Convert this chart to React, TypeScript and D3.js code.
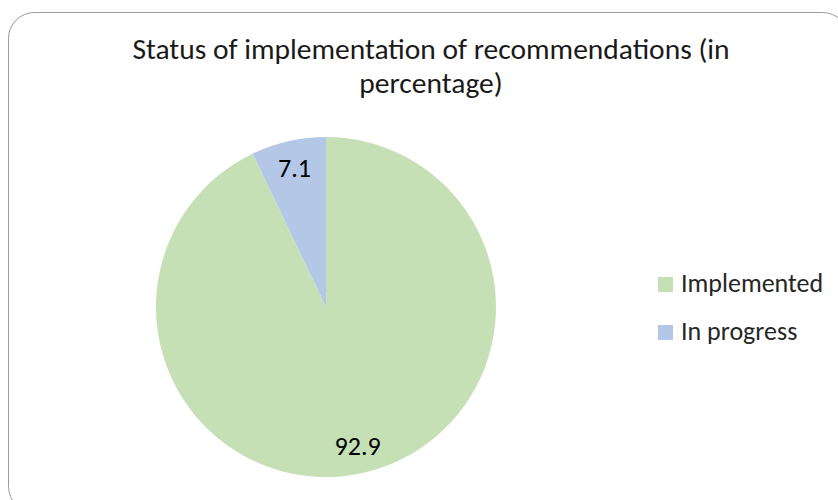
// @ts-nocheck

import * as d3 from "d3";
import { useRef, useEffect } from "react";

const categories = ["Implemented", "In progress"];
const values = [92.9, 7.1];
const colors = ["#C5E0B4", "#B4C7E7"];
const titleLines = ["Status of implementation of recommendations (in", "percentage)"];

export default function App() {
  const svgRef = useRef();

  useEffect(() => {
    const width = 838;
    const height = 500;
    const font = "Calibri, Carlito, Lato, sans-serif";

    const svg = d3.select(svgRef.current).attr("width", width).attr("height", height);
    svg.selectAll("*").remove();

    // chart frame, runs off the right and bottom edge
    svg
      .append("rect")
      .attr("x", 8.5)
      .attr("y", 12.5)
      .attr("width", 840)
      .attr("height", 500)
      .attr("rx", 26)
      .attr("fill", "#fff")
      .attr("stroke", "#999")
      .attr("stroke-width", 1);

    svg
      .append("g")
      .selectAll("text")
      .data(titleLines)
      .enter()
      .append("text")
      .attr("x", 431)
      .attr("y", (d, i) => 59 + i * 34)
      .attr("text-anchor", "middle")
      .attr("font-family", font)
      .attr("font-size", 29.5)
      .attr("fill", "#1a1a1a")
      .text((d) => d);

    const cx = 326;
    const cy = 307;
    const radius = 170;

    const data = categories.map((c, i) => ({ name: c, value: values[i], color: colors[i] }));
    const pie = d3.pie().sort(null).value((d) => d.value);
    const arc = d3.arc().innerRadius(0).outerRadius(radius);
    const labelArc = d3.arc().innerRadius(radius * 0.84).outerRadius(radius * 0.84);

    const g = svg.append("g").attr("transform", "translate(" + cx + "," + cy + ")");
    const arcs = pie(data);

    g.selectAll("path")
      .data(arcs)
      .enter()
      .append("path")
      .attr("d", arc)
      .attr("fill", (d) => d.data.color);

    g.selectAll("text")
      .data(arcs)
      .enter()
      .append("text")
      .attr("transform", (d) => "translate(" + labelArc.centroid(d) + ")")
      .attr("text-anchor", "middle")
      .attr("dy", "0.35em")
      .attr("font-family", font)
      .attr("font-size", 26)
      .attr("fill", "#000")
      .text((d) => d.data.value);

    const legend = svg
      .append("g")
      .selectAll("g")
      .data(data)
      .enter()
      .append("g")
      .attr("transform", (d, i) => "translate(658," + (277 + i * 48) + ")");

    legend
      .append("rect")
      .attr("width", 15)
      .attr("height", 15)
      .attr("fill", (d) => d.color);

    legend
      .append("text")
      .attr("x", 23)
      .attr("y", 15)
      .attr("font-family", font)
      .attr("font-size", 26)
      .attr("fill", "#262626")
      .text((d) => d.name);
  }, []);

  return (
    <div style={{ position: "absolute", left: 0, top: 0 }}>
      <svg ref={svgRef} style={{ display: "block" }}></svg>
    </div>
  );
}
